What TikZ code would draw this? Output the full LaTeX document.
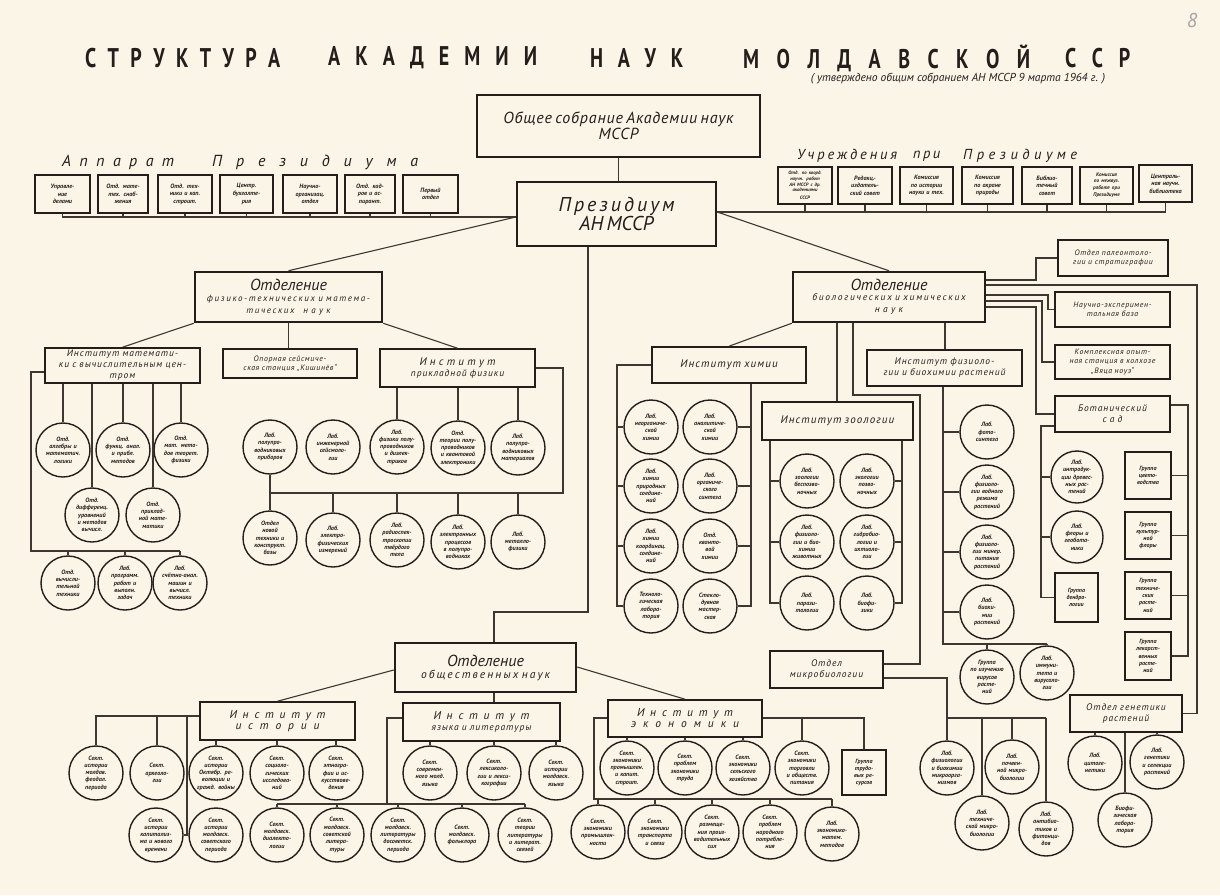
\documentclass[tikz,border=0pt]{standalone}
\usepackage{fontspec}
\setmainfont{PT Sans}
\newfontfamily\titlefont[FakeStretch=0.74]{PT Sans}
\definecolor{paper}{HTML}{FBF5E8}
\definecolor{ink}{HTML}{231E1C}
\definecolor{wirec}{HTML}{3F3632}
\def\SO#1{\SOa#1\relax}
\def\SOa#1#2{#1\ifx\relax#2\else\hfill\expandafter\SOa\expandafter#2\fi}
\newcommand\Bx[7]{%
 \pgfmathsetmacro\bw{#5-#3}\pgfmathsetmacro\bh{#6-#4}\pgfmathsetmacro\tw{#5-#3-4}%
 \pgfmathsetmacro\cx{(#3+#5)/2}\pgfmathsetmacro\cy{(#4+#6)/2}%
 \node[#1, minimum width=\bw pt, minimum height=\bh pt, text width=\tw pt] (#2) at (\cx,\cy) {#7};}
\newcommand\Ci[5][27]{%
 \pgfmathsetmacro\dd{2*#1}\pgfmathsetmacro\tw{1.8*#1}%
 \node[circ, minimum size=\dd pt] (#2) at (#3,#4) {};
 \node[ctext, text width=\tw pt] (#2t) at (#3,#4) {#5};}
\newcommand\Sw[6]{\node[anchor=west, inner sep=0pt, font=#4] (#1) at (#2,#3) {\makebox[#5pt][s]{\SO{#6}}};}
\tikzset{
 every node/.style={text=ink},
 big/.style={draw=ink, line width=2.5pt, align=center, inner sep=1pt, font=\itshape},
 ib/.style={draw=ink, line width=1.6pt, align=center, inner sep=1pt, font=\itshape\fontsize{9.5}{11}\selectfont\addfontfeature{LetterSpace=10}},
 ibs/.style={ib, font=\itshape\fontsize{7.8}{9.2}\selectfont\addfontfeature{LetterSpace=8}},
 sb/.style={draw=ink, line width=1.6pt, align=center, inner sep=1pt, font=\bfseries\itshape\fontsize{6.2}{7.6}\selectfont},
 gb/.style={draw=ink, line width=1.6pt, align=center, inner sep=1pt, font=\bfseries\itshape\fontsize{6}{7.3}\selectfont},
 circ/.style={circle, draw=ink, line width=1.4pt, inner sep=0pt},
 ctext/.style={align=center, inner sep=0pt, font=\bfseries\itshape\fontsize{6.2}{7.3}\selectfont},
 wire/.style={draw=wirec, line width=1.1pt},
}
\begin{document}
\begin{tikzpicture}[x=1pt,y=-1pt]
\fill[paper] (0,0) rectangle (1220,895);
\useasboundingbox (0,0) rectangle (1220,895);
% title
\Sw{t1}{85}{58}{\titlefont\bfseries\fontsize{27}{27}\selectfont}{195}{СТРУКТУРА}
\Sw{t2}{328}{58}{\titlefont\bfseries\fontsize{27}{27}\selectfont}{209}{АКАДЕМИИ}
\Sw{t3}{590}{58}{\titlefont\bfseries\fontsize{27}{27}\selectfont}{93}{НАУК}
\Sw{t4}{743}{58}{\titlefont\bfseries\fontsize{27}{27}\selectfont}{287}{МОЛДАВСКОЙ}
\Sw{t5}{1065}{58}{\titlefont\bfseries\fontsize{27}{27}\selectfont}{65}{ССР}
\node[font=\itshape\fontsize{11.5}{12}\selectfont] (sub) at (958,79) {( утверждено общим собранием АН МССР 9 марта 1964 г. )};
\node[font=\itshape\fontsize{20}{20}\selectfont, text=ink!40] (pg) at (1192,20) {8};
% top
\Bx{big}{gs}{477}{95}{760}{157}{\fontsize{16}{20}\selectfont\addfontfeature{LetterSpace=5}Общее собрание Академии наук\\МССР}
\Bx{big}{prez}{517}{182}{716}{246}{\fontsize{20}{23}\selectfont\makebox[116pt][s]{\SO{Президиум}}\\АН МССР}
\Sw{ap1}{62}{162}{\itshape\fontsize{16}{16}\selectfont}{112}{Аппарат}
\Sw{ap2}{212}{162}{\itshape\fontsize{16}{16}\selectfont}{206}{Президиума}
\Sw{up1}{797}{156}{\itshape\fontsize{14.5}{14}\selectfont}{100}{Учреждения}
\Sw{up2}{913}{156}{\itshape\fontsize{14.5}{14}\selectfont}{27}{при}
\Sw{up3}{963}{156}{\itshape\fontsize{14.5}{14}\selectfont}{114}{Президиуме}
\Bx{sb}{a1}{35}{175}{90}{213}{Управле-\\ние\\делами}
\Bx{sb}{a2}{98}{175}{148}{213}{Отд. мате-\\тех. снаб-\\жения}
\Bx{sb}{a3}{158}{175}{212}{213}{Отд. тех-\\ники и кап.\\строит.}
\Bx{sb}{a4}{220}{175}{273}{213}{Центр.\\бухгалте-\\рия}
\Bx{sb}{a5}{283}{175}{337}{213}{Научно-\\организац.\\отдел}
\Bx{sb}{a6}{345}{175}{395}{213}{Отд. кад-\\ров и ас-\\пирант.}
\Bx{sb}{a7}{403}{175}{458}{213}{Первый\\отдел}
\Bx{sb}{u1}{778}{167}{832}{204}{\fontsize{4.8}{5.6}\selectfont Отд. по коорд.\\научн. работ\\АН МССР с др.\\академиями\\СССР}
\Bx{sb}{u2}{838}{167}{892}{204}{Редакц.-\\издатель-\\ский совет}
\Bx{sb}{u3}{900}{167}{953}{204}{Комиссия\\по истории\\науки и тех.}
\Bx{sb}{u4}{962}{167}{1013}{204}{Комиссия\\по охране\\природы}
\Bx{sb}{u5}{1022}{167}{1072}{204}{Библио-\\течный\\совет}
\Bx{sb}{u6}{1080}{167}{1133}{204}{\fontsize{5.2}{6.3}\selectfont Комиссия\\по межвуз.\\работе при\\Президиуме}
\Bx{sb}{u7}{1139}{165}{1192}{202}{Централь-\\ная научн.\\библиотека}
\draw[wire] (gs.south) -- (gs.south |- prez.north);
\coordinate (apR) at (prez.west |- 0,217);
\coordinate (upL) at (prez.east |- 0,212);
\draw[wire] (a1.south) |- (apR);
\foreach \n in {a2,a3,a4,a5,a6,a7} \draw[wire] (\n.south) -- (\n.south |- apR);
\draw[wire] (upL) -| (u7.south);
\foreach \n in {u1,u2,u3,u4,u5,u6} \draw[wire] (\n.south) -- (\n.south |- upL);
% departments
\Bx{big}{ofiz}{195}{272}{382}{322}{{\fontsize{16}{17}\selectfont Отделение}\\{\fontsize{9}{10.5}\selectfont\addfontfeature{LetterSpace=18}физико-технических и матема-\\тических\quad н а у к}}
\Bx{big}{obio}{793}{272}{985}{322}{{\fontsize{16}{17}\selectfont Отделение}\\{\fontsize{9.5}{10.5}\selectfont\addfontfeature{LetterSpace=18}биологических и химических\\н а у к}}
\Bx{big}{oobs}{395}{643}{576}{692}{{\fontsize{16}{18}\selectfont Отделение}\\{\fontsize{11.5}{13}\selectfont\addfontfeature{LetterSpace=18}общественных наук}}
\draw[wire] (apR) -- (ofiz.north);
\draw[wire] (upL) -- (obio.north);
\coordinate (k1) at (588,612);
\coordinate (k2) at (494,612);
\draw[wire] (prez.south -| k1) -- (k1) -- (k2) -- (k2 |- oobs.north);
% ---------------- physics & math
\Bx{ib}{imat}{45}{348}{200}{383}{Институт математи-\\ки с вычислительным цен-\\тром}
\Bx{ibs}{iseis}{223}{349}{357}{378}{Опорная сейсмиче-\\ская станция „Кишинёв“}
\Bx{ib}{ifiz}{380}{349}{535}{387}{{\fontsize{11}{12}\selectfont\makebox[76pt][s]{\SO{Институт}}}\\прикладной физики}
\draw[wire] (ofiz.south west) -- (imat.north);
\draw[wire] (ofiz.south) -- (ofiz.south |- iseis.north);
\draw[wire] (ofiz.south east) -- (ifiz.north);
\Ci{m1}{63}{450}{Отд.\\алгебры и\\математич.\\логики}
\Ci{m2}{123}{450}{Отд.\\функц. анал.\\и прибл.\\методов}
\Ci{m3}{181}{450}{Отд.\\мат. мето-\\дов теорет.\\физики}
\Ci{m4}{92}{515}{Отд.\\дифференц.\\уравнений\\и методов\\вычисл.}
\Ci{m5}{153}{515}{Отд.\\приклад-\\ной мате-\\матики}
\Ci{m6}{68}{583}{Отд.\\вычисли-\\тельной\\техники}
\Ci{m7}{125}{583}{Лаб.\\программ.\\работ и\\выполн.\\задач}
\Ci{m8}{180}{583}{Лаб.\\счётно-анал.\\машин и\\вычисл.\\техники}
\foreach \c in {m1,m2,m3,m4,m5} \draw[wire] (\c.north |- imat.south) -- (\c.north);
\draw[wire] (imat.west |- 0,372) -- (31,372) -- (31,551) -- (m8.north |- 0,551);
\foreach \c in {m6,m7,m8} \draw[wire] (\c.north |- 0,551) -- (\c.north);
\Ci{s1}{270}{447}{Лаб.\\полупро-\\водниковых\\приборов}
\Ci{s2}{333}{447}{Лаб.\\инженерной\\сейсмоло-\\гии}
\Ci{f1}{397}{447}{Лаб.\\физики полу-\\проводников\\и диэлек-\\триков}
\Ci{f2}{458}{448}{Отд.\\теории полу-\\проводников\\и квантовой\\электроники}
\Ci{f3}{518}{448}{Лаб.\\полупро-\\водниковых\\материалов}
\Ci{s3}{270}{538}{Отдел\\новой\\техники и\\конструкт.\\базы}
\Ci{s4}{333}{540}{Лаб.\\электро-\\физических\\измерений}
\Ci{f4}{397}{540}{Лаб.\\радиоспек-\\троскопии\\твёрдого\\тела}
\Ci{f5}{458}{542}{Лаб.\\электронных\\процессов\\в полупро-\\водниках}
\Ci{f6}{518}{542}{Лаб.\\металло-\\физики}
\foreach \c in {f1,f2,f3} \draw[wire] (\c.north |- ifiz.south) -- (\c.north);
\draw[wire] (ifiz.east |- 0,368) -- (563,368) -- (563,493) -- (s3.north |- 0,493);
\draw[wire] (s1.south) -- (s3.north);
\foreach \c in {s4,f4,f5,f6} \draw[wire] (\c.north |- 0,493) -- (\c.north);
% ---------------- chemistry
\Bx{ib}{ichem}{652}{347}{806}{383}{\fontsize{11}{12}\selectfont Институт химии}
\draw[wire] (obio.south west) -- (ichem.north);
\Ci{ch1}{651}{427}{Лаб.\\неорганиче-\\ской\\химии}
\Ci{ch2}{710}{427}{Лаб.\\аналитиче-\\ской\\химии}
\Ci{ch3}{651}{486}{Лаб.\\химии\\природных\\соедине-\\ний}
\Ci{ch4}{710}{486}{Лаб.\\органиче-\\ского\\синтеза}
\Ci{ch5}{651}{546}{Лаб.\\химии\\координац.\\соедине-\\ний}
\Ci{ch6}{710}{546}{Отд.\\кванто-\\вой\\химии}
\Ci{ch7}{651}{606}{Техноло-\\гическая\\лабора-\\тория}
\Ci{ch8}{710}{606}{Стекло-\\дувная\\мастер-\\ская}
\draw[wire] (ichem.west) -- (ichem.west -| 617,0) |- (ch7.west);
\foreach \c in {ch1,ch3,ch5} \draw[wire] (\c.west -| 617,0) -- (\c.west);
\draw[wire] (ichem.south -| 751,0) |- (ch8.east);
\foreach \c in {ch2,ch4,ch6} \draw[wire] (\c.east -| 751,0) -- (\c.east);
% ---------------- zoology
\Bx{ib}{izoo}{762}{402}{913}{440}{\fontsize{11}{12}\selectfont Институт зоологии}
\draw[wire] (obio.south -| 837,0) -- (izoo.north -| 837,0);
\Ci{z1}{807}{481}{Лаб.\\зоологии\\беспозво-\\ночных}
\Ci{z2}{867}{481}{Лаб.\\экологии\\позво-\\ночных}
\Ci{z3}{807}{542}{Лаб.\\физиоло-\\гии и био-\\химии\\животных}
\Ci{z4}{867}{542}{Лаб.\\гидробио-\\логии и\\ихтиоло-\\гии}
\Ci{z5}{807}{603}{Лаб.\\парази-\\тологии}
\Ci{z6}{867}{603}{Лаб.\\биофи-\\зики}
\draw[wire] (izoo.south -| 770,0) |- (z5.west);
\foreach \c in {z1,z3} \draw[wire] (\c.west -| 770,0) -- (\c.west);
\draw[wire] (izoo.south -| 902,0) |- (z6.east);
\foreach \c in {z2,z4} \draw[wire] (\c.east -| 902,0) -- (\c.east);
% ---------------- microbiology
\Bx{ib}{omic}{770}{651}{883}{688}{Отдел\\микробиологии}
\draw[wire] (obio.south -| 853,0) -- (853,395) -- (920,395) |- (omic.east |- 0,664);
\Ci{mA}{947}{768}{Лаб.\\физиологии\\и биохимии\\микроорга-\\низмов}
\Ci{mB}{1012}{767}{Лаб.\\почвен-\\ной микро-\\биологии}
\Ci{mC}{982}{823}{Лаб.\\техниче-\\ской микро-\\биологии}
\Ci{mD}{1046}{829}{Лаб.\\антибио-\\тиков и\\фитонци-\\дов}
\draw[wire] (omic.east |- 0,678) -| (mA.north |- 0,718) -- (mD.north |- 0,718);
\foreach \c in {mA,mB,mC,mD} \draw[wire] (\c.north |- 0,718) -- (\c.north);
% ---------------- plant physiology
\Bx{ib}{iphys}{867}{350}{1022}{386}{Институт физиоло-\\гии и биохимии растений}
\draw[wire] (obio.south -| 945,0) -- (iphys.north -| 945,0);
\Ci{p1}{987}{432}{Лаб.\\фото-\\синтеза}
\Ci{p2}{987}{492}{Лаб.\\физиоло-\\гии водного\\режима\\растений}
\Ci{p3}{987}{552}{Лаб.\\физиоло-\\гии минер.\\питания\\растений}
\Ci{p4}{987}{612}{Лаб.\\биохи-\\мии\\растений}
\Ci{p5}{987}{677}{Группа\\по изучению\\вирусов\\расте-\\ний}
\Ci{p6}{1047}{673}{Лаб.\\иммуни-\\тета и\\вирусоло-\\гии}
\draw[wire] (iphys.south -| 943,0) -- (943,644) -- (p6.north |- 0,644);
\foreach \c in {p1,p2,p3,p4} \draw[wire] (\c.west -| 943,0) -- (\c.west);
\foreach \c in {p5,p6} \draw[wire] (\c.north |- 0,644) -- (\c.north);
% ---------------- right column
\Bx{ibs}{opal}{1058}{240}{1168}{276}{Отдел палеонтоло-\\гии и стратиграфии}
\Bx{ibs}{onb}{1055}{292}{1170}{327}{Научно-эксперимен-\\тальная база}
\Bx{ibs}{okos}{1055}{345}{1170}{379}{Комплексная опыт-\\ная станция в колхозе\\„Вяца ноуэ“}
\Bx{ib}{obot}{1055}{396}{1170}{432}{Ботанический\\с а д}
\Bx{ib}{ogen}{1070}{695}{1182}{732}{Отдел генетики\\растений}
\draw[wire] (obio.east |- 0,280) -- (1036,280) |- (opal.west);
\draw[wire] (obio.east |- 0,285) -- (1197,285) |- (ogen.east);
\draw[wire] (obio.east |- 0,295) -- (1048,295) |- (onb.west);
\draw[wire] (obio.east |- 0,301) -- (1042,301) |- (okos.west);
\draw[wire] (obio.east |- 0,307) -- (1036,307) |- (obot.west |- 0,414);
\Ci[26]{b1}{1077}{477}{Лаб.\\интродук-\\ции древес-\\ных рас-\\тений}
\Ci[26]{b2}{1077}{537}{Лаб.\\флоры и\\геобота-\\ники}
\Bx{gb}{bg}{1055}{573}{1098}{622}{Группа\\дендро-\\логии}
\draw[wire] (obot.west |- 0,426) -- (1041,426) |- (bg.west);
\foreach \c in {b1,b2} \draw[wire] (\c.west -| 1041,0) -- (\c.west);
\Bx{gb}{g1}{1125}{452}{1171}{499}{Группа\\цвето-\\водства}
\Bx{gb}{g2}{1125}{512}{1171}{559}{Группа\\культур-\\ной\\флоры}
\Bx{gb}{g3}{1125}{572}{1171}{619}{Группа\\техниче-\\ских\\расте-\\ний}
\Bx{gb}{g4}{1125}{632}{1171}{680}{Группа\\лекарст-\\венных\\расте-\\ний}
\draw[wire] (obot.east |- 0,405) -- (1188,405) |- (g4.east);
\foreach \c in {g1,g2,g3} \draw[wire] (\c.east -| 1188,0) -- (\c.east);
\Ci{gn1}{1095}{763}{Лаб.\\цитоге-\\нетики}
\Ci{gn2}{1157}{762}{Лаб.\\генетики\\и селекции\\растений}
\Ci{gn3}{1125}{820}{Биофи-\\зическая\\лабора-\\тория}
\foreach \c in {gn1,gn2,gn3} \draw[wire] (\c.north |- ogen.south) -- (\c.north);
% ---------------- social sciences
\Bx{ib}{ihist}{200}{702}{355}{740}{\fontsize{11.5}{13}\selectfont\makebox[96pt][s]{\SO{Институт}}\\\makebox[84pt][s]{\SO{истории}}}
\Bx{ib}{ilang}{403}{703}{560}{741}{{\fontsize{11.5}{13}\selectfont\makebox[96pt][s]{\SO{Институт}}}\\языка и литературы}
\Bx{ib}{iecon}{608}{700}{762}{737}{\fontsize{11.5}{13}\selectfont\makebox[96pt][s]{\SO{Институт}}\\\makebox[108pt][s]{\SO{экономики}}}
\draw[wire] (oobs.west |- 0,670) -- (ihist.north);
\draw[wire] (oobs.east |- 0,667) -- (iecon.north);
\draw[wire] (oobs.south -| k2) -- (ilang.north -| k2);
\Ci{h1}{96}{773}{Сект.\\истории\\молдав.\\феодал.\\периода}
\Ci{h2}{157}{773}{Сект.\\археоло-\\гии}
\Ci{h3}{216}{773}{Сект.\\истории\\Октябр. ре-\\волюции и\\гражд. войны}
\Ci{h4}{277}{773}{Сект.\\социоло-\\гических\\исследова-\\ний}
\Ci{h5}{336}{773}{Сект.\\этногра-\\фии и ис-\\кусствове-\\дения}
\Ci{h6}{156}{835}{Сект.\\истории\\капитализ-\\ма и нового\\времени}
\Ci{h7}{216}{835}{Сект.\\истории\\молдавск.\\советского\\периода}
\draw[wire] (ihist.west |- 0,716) -| (h1.north);
\draw[wire] (h2.north |- 0,716) -- (h2.north);
\draw[wire] (187,716) -- (187,835) -- (h7.west);
\draw[wire] (187,835) -- (h6.east);
\foreach \c in {h3,h4,h5} \draw[wire] (\c.north |- ihist.south) -- (\c.north);
\Ci{l1}{430}{773}{Сект.\\современ-\\ного молд.\\языка}
\Ci{l2}{494}{773}{Сект.\\лексиколо-\\гии и лекси-\\кографии}
\Ci{l3}{556}{773}{Сект.\\истории\\молдавск.\\языка}
\Ci{l4}{277}{835}{Сект.\\молдавск.\\диалекто-\\логии}
\Ci{l5}{337}{835}{Сект.\\молдавск.\\советской\\литера-\\туры}
\Ci{l6}{398}{835}{Сект.\\молдавск.\\литературы\\досоветск.\\периода}
\Ci{l7}{462}{835}{Сект.\\молдавск.\\фольклора}
\Ci{l8}{525}{835}{Сект.\\теории\\литературы\\и литерат.\\связей}
\foreach \c in {l1,l2,l3} \draw[wire] (\c.north |- ilang.south) -- (\c.north);
\draw[wire] (ilang.west |- 0,718) -- (387,718) -- (387,804);
\draw[wire] (l4.north |- 0,804) -- (l8.north |- 0,804);
\foreach \c in {l4,l5,l6,l7,l8} \draw[wire] (\c.north |- 0,804) -- (\c.north);
\Ci{e1}{627}{768}{Сект.\\экономики\\промышлен.\\и капит.\\строит.}
\Ci{e2}{685}{768}{Сект.\\проблем\\экономики\\труда}
\Ci{e3}{743}{768}{Сект.\\экономики\\сельского\\хозяйства}
\Ci{e4}{802}{768}{Сект.\\экономики\\торговли\\и обществ.\\питания}
\Bx{gb}{egr}{842}{750}{886}{795}{Группа\\трудо-\\вых ре-\\сурсов}
\Ci{e5}{598}{832}{Сект.\\экономики\\промышлен-\\ности}
\Ci{e6}{655}{832}{Сект.\\экономики\\транспорта\\и связи}
\Ci{e7}{712}{832}{Сект.\\размеще-\\ния произ-\\водительных\\сил}
\Ci{e8}{770}{832}{Сект.\\проблем\\народного\\потребле-\\ния}
\Ci{e9}{832}{834}{Лаб.\\экономико-\\матем.\\методов}
\foreach \c in {e1,e2,e3} \draw[wire] (\c.north |- iecon.south) -- (\c.north);
\draw[wire] (iecon.east |- 0,718) -| (egr.north);
\draw[wire] (e4.north |- 0,718) -- (e4.north);
\draw[wire] (iecon.west |- 0,718) -- (594,718) |- (e9.north |- 0,799);
\foreach \c in {e5,e6,e7,e8,e9} \draw[wire] (\c.north |- 0,799) -- (\c.north);
\end{tikzpicture}
\end{document}
